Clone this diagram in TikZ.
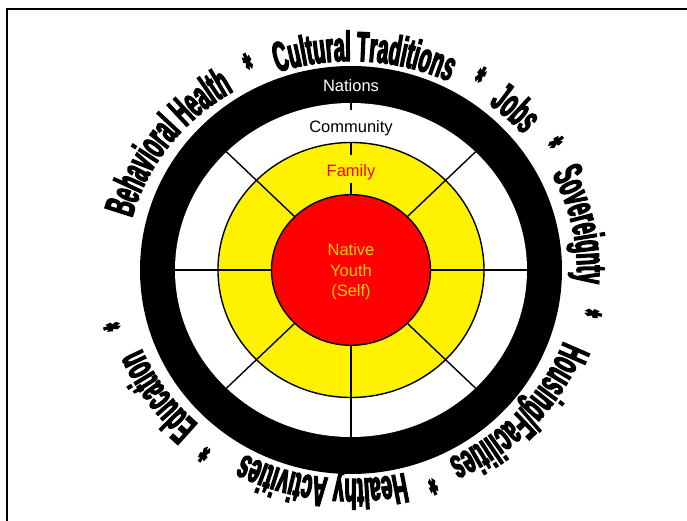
\documentclass[tikz,border=0pt]{standalone}
\usepackage{fontspec}
\setmainfont{Liberation Sans}
\newfontfamily\ringfont[FakeStretch=0.47,FakeBold=3]{Liberation Sans}
\usetikzlibrary{decorations.text}
\definecolor{selfgold}{RGB}{255,204,0}
\newcommand\ringstyle{\ringfont\bfseries\fontsize{42}{42}\selectfont}

\begin{document}
\begin{tikzpicture}[x=1pt, y=1pt,
		ringlabel/.style={font=\fontsize{16.5}{20.5}\selectfont, inner sep=0pt},
		spoke/.style={line width=1.4pt},
		ringword/.style={decorate, decoration={text along path, text={|\ringstyle|#1}, text align=center}}]
		\useasboundingbox(-351, -251)rectangle(336, 270);
		\draw[line width=2pt](-343.5, -251)--(-343.5, 261)--(336, 261);
		% the rings
		\fill[black](0, 0)ellipse[x radius=211pt, y radius=204pt];
		\fill[white](0, 0)ellipse[x radius=176pt, y radius=167pt];
		\filldraw[fill=yellow, line width=1.4pt](0, 0)ellipse[x radius=133pt, y radius=127.5pt];
		\filldraw[fill=red, line width=1.4pt](0, 0)ellipse[x radius=79.5pt, y radius=75.3pt];
		% labels
		\node[ringlabel, text=white](nations)at(0, 184.3){Nations};
		\node[ringlabel, text height=23pt, text depth=9.5pt](community)at(0, 143.75){Community};
		\node[ringlabel, text=red, text height=21.7pt, text depth=6.3pt](family)at(0, 101){Family};
		\node[ringlabel, text=selfgold, align=center](self)at(0, -2){Native\\Youth\\(Self)};
		% spokes
		\coordinate(ntop)at(90:176pt and 167pt);
		\coordinate(ytop)at(90:133pt and 127.5pt);
		\coordinate(rtop)at(90:79.5pt and 75.3pt);
		\draw[spoke](ntop)--(community.north);
		\draw[spoke](ytop)--(family.north);
		\draw[spoke](family.south)--(rtop);
		\foreach \a in {0, 45, 135, 180, 225, 270, 315}
			\draw[spoke](\a:79.5pt and 75.3pt)--(\a:176pt and 167pt);
		% words round the wheel
		\path[ringword={Behavioral Health}](184:226pt and 209pt)arc[start angle=184, end angle=104, x radius=226pt, y radius=209pt];
		\path[ringword={*}](125:226pt and 209pt)arc[start angle=125, end angle=105, x radius=226pt, y radius=209pt];
		\path[ringword={Cultural Traditions}](126.6:226pt and 209pt)arc[start angle=126.6, end angle=46.6, x radius=226pt, y radius=209pt];
		\path[ringword={*}](68:226pt and 209pt)arc[start angle=68, end angle=48, x radius=226pt, y radius=209pt];
		\path[ringword={Jobs}](66.2:226pt and 209pt)arc[start angle=66.2, end angle=26.2, x radius=226pt, y radius=209pt];
		\path[ringword={*}](43.6:226pt and 209pt)arc[start angle=43.6, end angle=23.6, x radius=226pt, y radius=209pt];
		\path[ringword={Sovereignty}](51.5:226pt and 209pt)arc[start angle=51.5, end angle=-28.5, x radius=226pt, y radius=209pt];
		\path[ringword={*}](-0.8:226pt and 209pt)arc[start angle=-0.8, end angle=-20.8, x radius=226pt, y radius=209pt];
		\path[ringword={Housing/Facilities}](-1.6:226pt and 209pt)arc[start angle=-1.6, end angle=-81.6, x radius=226pt, y radius=209pt];
		\path[ringword={*}](-60.4:226pt and 209pt)arc[start angle=-60.4, end angle=-80.4, x radius=226pt, y radius=209pt];
		\path[ringword={Healthy Activities}](-57.4:226pt and 209pt)arc[start angle=-57.4, end angle=-137.4, x radius=226pt, y radius=209pt];
		\path[ringword={*}](-116.8:226pt and 209pt)arc[start angle=-116.8, end angle=-136.8, x radius=226pt, y radius=209pt];
		\path[ringword={Education}](-106:226pt and 209pt)arc[start angle=-106, end angle=-186, x radius=226pt, y radius=209pt];
		\path[ringword={*}](-155.8:226pt and 209pt)arc[start angle=-155.8, end angle=-175.8, x radius=226pt, y radius=209pt];
	\end{tikzpicture}
\end{document}
